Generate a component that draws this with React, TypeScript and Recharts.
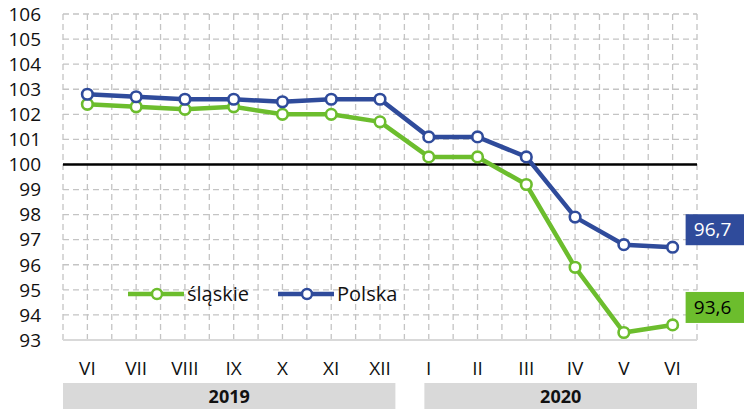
import { CartesianGrid, LabelList, Legend, Line, LineChart, ReferenceLine, XAxis, YAxis } from 'recharts';

const months = ['VI', 'VII', 'VIII', 'IX', 'X', 'XI', 'XII', 'I', 'II', 'III', 'IV', 'V', 'VI'];
const years = ['2019', '2019', '2019', '2019', '2019', '2019', '2019', '2020', '2020', '2020', '2020', '2020', '2020'];
const slaskie = [102.4, 102.3, 102.2, 102.3, 102.0, 102.0, 101.7, 100.3, 100.3, 99.2, 95.9, 93.3, 93.6];
const polska = [102.8, 102.7, 102.6, 102.6, 102.5, 102.6, 102.6, 101.1, 101.1, 100.3, 97.9, 96.8, 96.7];
const yTicks = [93, 94, 95, 96, 97, 98, 99, 100, 101, 102, 103, 104, 105, 106];

const GREEN = '#6cbd2d';
const BLUE = '#2f4b9b';
const FONT = '"Open Sans", sans-serif';

const data = months.map((m, i) => ({
  key: `${m}-${i}`,
  month: m,
  year: years[i],
  slaskie: slaskie[i],
  polska: polska[i],
}));

const W = 744;
const H = 409;
const LEFT = 63;
const RIGHT = 47;
const STEP = (W - LEFT - RIGHT) / months.length;
const PAD = { left: STEP / 2, right: STEP / 2 };

const MonthTick = (props: any) => {
  const { x, y, payload } = props;
  return (
    <text x={x} y={y + 27} textAnchor="middle" fontFamily={FONT} fontSize={19} fill="#111">
      {months[payload.index]}
    </text>
  );
};

const YearTick = (props: any) => {
  const { x, y, payload } = props;
  const i = payload.index;
  if (i > 0 && years[i] === years[i - 1]) return null;
  let n = 0;
  while (i + n < years.length && years[i + n] === years[i]) n++;
  const first = i === 0;
  const x0 = x - STEP / 2 + (first ? 0 : 20);
  const x1 = x - STEP / 2 + n * STEP - (first ? 9 : 0);
  return (
    <g>
      <rect x={x0} y={y - 8} width={x1 - x0} height={27} fill="#d9d9d9" />
      <text x={(x0 + x1) / 2} y={y + 12} textAnchor="middle" fontFamily={FONT} fontSize={18} fontWeight={700} fill="#111">
        {years[i]}
      </text>
    </g>
  );
};

const endLabel = (color: string, textColor: string) => (props: any) => {
  const { x, y, value, index } = props;
  if (index !== months.length - 1) return null;
  return (
    <g>
      <rect x={x + 13} y={y - 33} width={60} height={31} fill={color} />
      <text x={x + 40} y={y - 11} textAnchor="middle" fontFamily={FONT} fontSize={19} fill={textColor}>
        {String(value).replace('.', ',')}
      </text>
    </g>
  );
};

const LegendContent = () => {
  const item = (color: string, label: string) => (
    <div style={{ display: 'flex', alignItems: 'center', marginRight: 29 }}>
      <svg width={56} height={14}>
        <line x1={0} y1={7} x2={56} y2={7} stroke={color} strokeWidth={4.5} />
        <circle cx={29} cy={7} r={5} fill="#fff" stroke={color} strokeWidth={2.5} />
      </svg>
      <span style={{ fontFamily: FONT, fontSize: 20, color: '#111', marginLeft: 3 }}>{label}</span>
    </div>
  );
  return (
    <div style={{ display: 'flex', background: 'transparent' }}>
      {item(GREEN, 'śląskie')}
      {item(BLUE, 'Polska')}
    </div>
  );
};

const vGrid = ({ offset }: any) => {
  const pts: number[] = [];
  for (let k = 0; k <= months.length * 2; k++) {
    pts.push(offset.left + (k * offset.width) / (months.length * 2));
  }
  return pts;
};

export default function App() {
  return (
    <div style={{ position: 'absolute', left: 0, top: 0, width: W, height: H, background: '#fff' }}>
      <LineChart width={W} height={H} data={data} margin={{ top: 14, right: RIGHT, bottom: 0, left: 0 }}>
        <CartesianGrid stroke="#c4c4c4" strokeDasharray="6 4" strokeWidth={1.3} verticalCoordinatesGenerator={vGrid} />
        <XAxis
          dataKey="key"
          xAxisId="m"
          interval={0}
          height={43}
          padding={PAD}
          tick={<MonthTick />}
          tickLine={false}
          axisLine={{ stroke: '#d9d9d9', strokeWidth: 2 }}
        />
        <XAxis
          dataKey="key"
          xAxisId="y"
          interval={0}
          height={26}
          padding={PAD}
          tick={<YearTick />}
          tickLine={false}
          axisLine={false}
        />
        <YAxis
          domain={[93, 106]}
          ticks={yTicks}
          interval={0}
          width={LEFT}
          axisLine={false}
          tickLine={false}
          tickMargin={16}
          tick={{ fontFamily: FONT, fontSize: 19, fill: '#111' }}
        />
        <ReferenceLine y={100} xAxisId="m" stroke="#000" strokeWidth={2.5} />
        <Line
          xAxisId="m"
          dataKey="slaskie"
          name="śląskie"
          stroke={GREEN}
          strokeWidth={4.5}
          dot={{ r: 5.3, fill: '#fff', stroke: GREEN, strokeWidth: 2.6 }}
          isAnimationActive={false}
        >
          <LabelList dataKey="slaskie" content={endLabel(GREEN, '#000')} />
        </Line>
        <Line
          xAxisId="m"
          dataKey="polska"
          name="Polska"
          stroke={BLUE}
          strokeWidth={4.5}
          dot={{ r: 5.3, fill: '#fff', stroke: BLUE, strokeWidth: 2.6 }}
          isAnimationActive={false}
        >
          <LabelList dataKey="polska" content={endLabel(BLUE, '#fff')} />
        </Line>
        <Legend
          verticalAlign="middle"
          align="center"
          content={<LegendContent />}
          wrapperStyle={{ position: 'absolute', left: 128, top: 280, width: 'auto', height: 'auto' }}
        />
      </LineChart>
    </div>
  );
}
